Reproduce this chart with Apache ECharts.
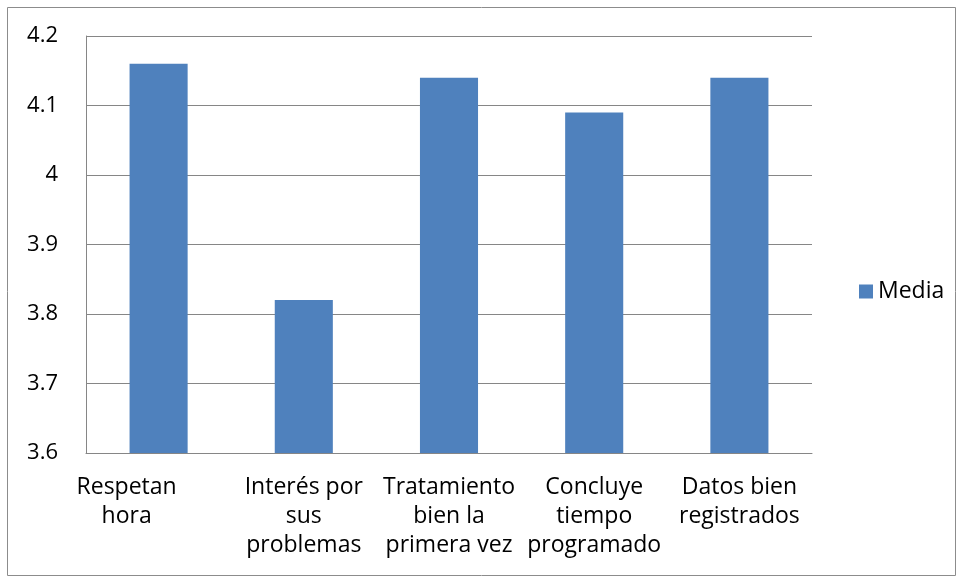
<!DOCTYPE html>
<html>
<head>
<meta charset="utf-8">
<script src="https://cdn.jsdelivr.net/npm/echarts@6/dist/echarts.min.js"></script>
<style>
  html, body { margin: 0; padding: 0; background: #fff; }
  #main { width: 963px; height: 583px; }
</style>
</head>
<body>
<div id="main"></div>
<script>
// datos
var categorias = [
  "Respetan\nhora",
  "Interés por\nsus\nproblemas",
  "Tratamiento\nbien la\nprimera vez",
  "Concluye\ntiempo\nprogramado",
  "Datos bien\nregistrados"
];
var media = [4.16, 3.82, 4.14, 4.09, 4.14];
var serieNombre = "Media";

var fuente = "Open Sans";
var myChart = echarts.init(document.getElementById("main"));

// the first label sits a little left of its bar in the original
var catData = categorias.map(function(c, i) {
  if (i === 0) {
    return { value: c, textStyle: { padding: [0, 64, 0, 0] } };
  }
  return c;
});

var option = {
  animation: false,
  textStyle: { fontFamily: fuente },
  graphic: [
    {
      type: "rect",
      shape: { x: 7.5, y: 7.5, width: 948, height: 568 },
      style: { fill: "none", stroke: "#8c8c8c", lineWidth: 1 }
    }
  ],
  legend: {
    orient: "vertical",
    left: 854,
    top: "middle",
    itemWidth: 14,
    itemHeight: 14,
    itemGap: 8,
    icon: "rect",
    textStyle: { fontSize: 23, color: "#000", fontFamily: fuente },
    data: [serieNombre]
  },
  grid: {
    left: 86,
    top: 36,
    width: 726,
    height: 417,
    containLabel: false
  },
  xAxis: {
    type: "category",
    data: catData,
    axisLine: { show: true, lineStyle: { color: "#868686", width: 1 } },
    axisTick: { show: false },
    axisLabel: {
      interval: 0,
      color: "#000",
      fontSize: 23,
      lineHeight: 29,
      margin: 20,
      fontFamily: fuente
    }
  },
  yAxis: {
    type: "value",
    min: 3.6,
    max: 4.2,
    interval: 0.1,
    axisLine: { show: true, lineStyle: { color: "#868686", width: 1 } },
    axisTick: { show: false },
    splitLine: { show: true, lineStyle: { color: "#868686", width: 1 } },
    axisLabel: {
      color: "#000",
      fontSize: 22,
      margin: 28,
      fontFamily: fuente,
      formatter: function(v) {
        return String(Math.round(v * 10) / 10);
      }
    }
  },
  series: [
    {
      name: serieNombre,
      type: "bar",
      data: media,
      barWidth: "40%",
      itemStyle: { color: "#4F81BD" }
    }
  ]
};
myChart.setOption(option);
</script>
</body>
</html>
